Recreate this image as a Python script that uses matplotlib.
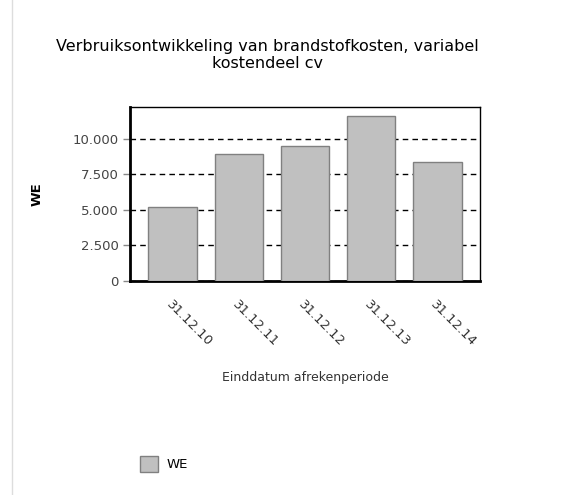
import numpy as np
import matplotlib.pyplot as plt
from matplotlib.patches import Patch
from matplotlib.lines import Line2D

categories = ['31.12.10', '31.12.11', '31.12.12', '31.12.13', '31.12.14']
values = [5230, 8950, 9500, 11620, 8380]
yticks = [0, 2500, 5000, 7500, 10000]
ytick_labels = ['0', '2.500', '5.000', '7.500', '10.000']

fig = plt.figure(figsize=(5.83, 4.95), dpi=100)
ax = fig.add_axes([130/583, 1-281/495, 350/583, 174/495])

x = np.arange(len(categories))
ax.bar(x, values, width=0.74, color='#c0c0c0', edgecolor='#808080', linewidth=1, zorder=3)
ax.set_xlim(-0.65, 4.65)
ax.set_ylim(0, 12250)
ax.set_yticks(yticks)
ax.set_yticklabels(ytick_labels, color='#444444', fontsize=9.5)
ax.set_xticks(x)
ax.set_xticklabels(categories, rotation=-45, ha='left', va='top', color='#333333', fontsize=9.5,
                   rotation_mode='anchor')
ax.tick_params(axis='x', length=0, pad=12)
ax.tick_params(axis='y', length=5, color='#888888', width=1, pad=3)
ax.grid(axis='y', color='black', linestyle=(0, (4, 3)), linewidth=1, zorder=1)
for s in ax.spines.values():
    s.set_color('black')
    s.set_linewidth(1)
ax.spines['left'].set_linewidth(2)
ax.spines['bottom'].set_linewidth(2)

ax.set_ylabel('WE', fontsize=9.5, fontweight='bold', labelpad=21)
ax.set_xlabel('Einddatum afrekenperiode', fontsize=9, color='#333333', labelpad=16)
fig.text(267/583, 1-55/495, 'Verbruiksontwikkeling van brandstofkosten, variabel\nkostendeel cv',
         ha='center', va='center', fontsize=11.5, linespacing=1.25)

fig.legend(handles=[Patch(facecolor='#c0c0c0', edgecolor='#808080', label='WE')],
           loc='center left', bbox_to_anchor=(128/583, 1-464/495), frameon=False,
           fontsize=9.5, handlelength=1.4, handleheight=1.4, handletextpad=0.6)
fig.add_artist(Line2D([12/583, 12/583], [0, 1], color='#dddddd', linewidth=1))

plt.savefig('out.png')
